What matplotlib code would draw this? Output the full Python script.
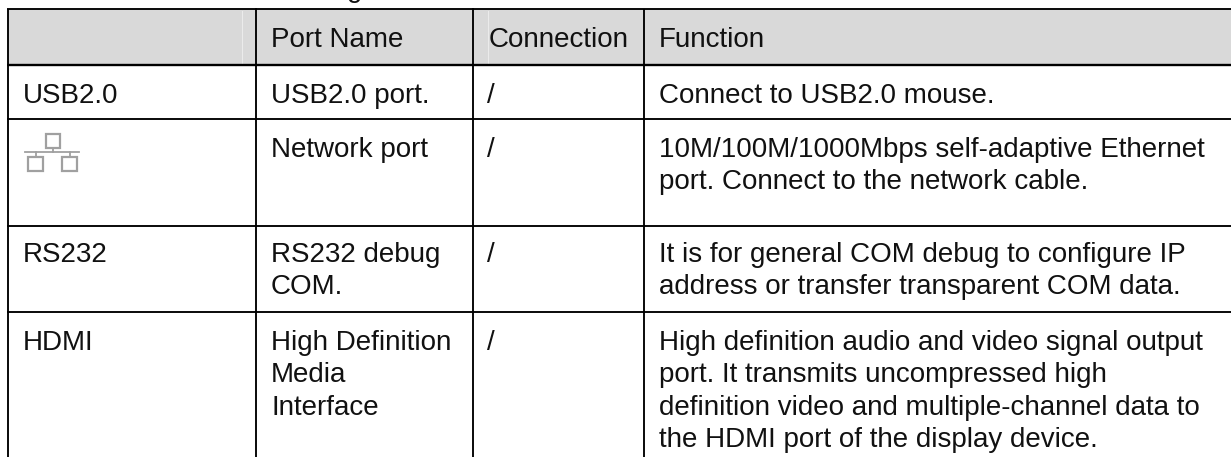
import matplotlib
matplotlib.use("Agg")
import matplotlib.pyplot as plt
from matplotlib.patches import Rectangle

W, H = 1231, 457
plt.rcParams['font.family'] = ['Liberation Sans', 'DejaVu Sans']

headers = ["", "Port Name", "Connection", "Function"]
col_1 = ["USB2.0", "", "RS232", "HDMI"]
col_2 = ["USB2.0 port.", "Network port", "RS232 debug\nCOM.", "High Definition\nMedia\nInterface"]
col_3 = ["/", "/", "/", "/"]
col_4 = ["Connect to USB2.0 mouse.",
         "10M/100M/1000Mbps self-adaptive Ethernet\nport. Connect to the network cable.",
         "It is for general COM debug to configure IP\naddress or transfer transparent COM data.",
         "High definition audio and video signal output\nport. It transmits uncompressed high\ndefinition video and multiple-channel data to\nthe HDMI port of the display device."]

col_x = [8, 256, 473, 644, W]
row_y = [9, 64.5, 119, 226, 312, H]
text_x = [23, 271, 487, 659]
header_x = [23, 271, 488.5, 659]
header_base = 47
row_base = [103, 157, 262, 350]
LINE_H = 32.4
FS = 20

fig = plt.figure(figsize=(W / 100, H / 100), dpi=100)
ax = fig.add_axes([0, 0, 1, 1])
ax.set_xlim(0, W)
ax.set_ylim(H, 0)
ax.axis("off")

ax.add_patch(Rectangle((col_x[0], row_y[0]), W - col_x[0], row_y[1] - row_y[0], fc="#d9d9d9", ec="none", zorder=1))
for x in (242, 488):
    ax.plot([x, x], [row_y[0] + 2, row_y[1] - 1], color="#ececec", lw=0.7, zorder=2)

LW = 1.35
for y in row_y[:-1]:
    ax.plot([col_x[0] - 1, W], [y, y], color="black", lw=LW if y != 64.5 else 1.7, zorder=3, solid_capstyle="butt")
for x in col_x[:-1]:
    top = 7.5 if x in (256, 473) else row_y[0]
    ax.plot([x, x], [top, H], color="black", lw=LW, zorder=3, solid_capstyle="butt")

def put(x, y, s):
    for k, line in enumerate(s.split("\n")):
        ax.text(x, y + k * LINE_H, line, fontsize=FS, va="baseline", ha="left", color="#111111", zorder=4)

for x, s in zip(header_x, headers):
    if s:
        put(x, header_base, s)
for i, b in enumerate(row_base):
    for x, col in zip(text_x, (col_1, col_2, col_3, col_4)):
        if col[i]:
            put(x, b, col[i])

# descender of the line of text cut off above the table
ax.text(347, -3, "g", fontsize=FS, va="baseline", ha="left", color="#111111")

# network icon
ic = dict(fc="white", ec="#a0a0a0", lw=1.6, zorder=4)
ax.add_patch(Rectangle((46, 134), 14, 14, **ic))
ax.add_patch(Rectangle((28, 157), 15, 14, **ic))
ax.add_patch(Rectangle((62, 157), 15, 14, **ic))
grey = dict(color="#a0a0a0", lw=1.3, zorder=4)
ax.plot([25, 79], [152, 152], **grey)
ax.plot([53, 53], [148, 152], **grey)
ax.plot([35.5, 35.5], [152, 157], **grey)
ax.plot([69.5, 69.5], [152, 157], **grey)

fig.savefig("out.png", dpi=100)
